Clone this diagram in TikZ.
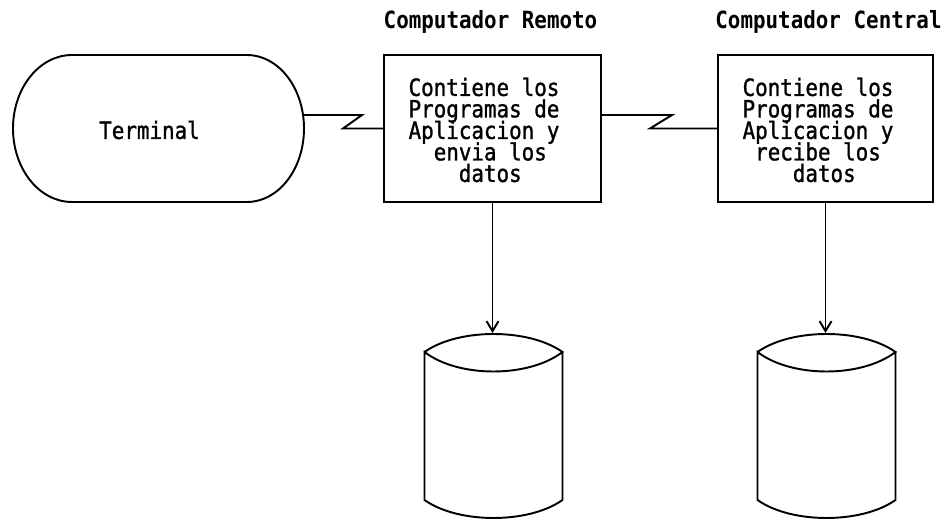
\documentclass[tikz,border=0pt]{standalone}
\usepackage{fontspec}
\newfontfamily\monof[FakeStretch=0.88,FakeBold=1.2]{DejaVu Sans Mono}
\newfontfamily\monob[FakeStretch=0.88]{DejaVu Sans Mono Bold}
\newcommand\mybodyfont{\monof\fontsize{13.5pt}{12.24pt}\selectfont\setlength{\lineskiplimit}{-20pt}}
\newcommand\mytitlefont{\monob\fontsize{13.5pt}{12.24pt}\selectfont}
\usetikzlibrary{arrows.meta}
\begin{document}
\begin{tikzpicture}[x=0.02cm,y=-0.02cm, line width=1.1pt,
  every node/.style={font=\mybodyfont, inner sep=0pt},
  boxnode/.style={draw, minimum height=2.94cm},
  txt/.style={align=left},
  ttl/.style={font=\mytitlefont},
  arr/.style={-{Straight Barb[length=0.2cm,width=0.24cm]}},
  dbline/.style={line join=miter}]
\useasboundingbox (0,0) rectangle (948,520);
% Terminal
\draw (72,55) -- (247,55)
   .. controls (278.5,55) and (304,87.9) .. (304,128.5)
   .. controls (304,169.1) and (278.5,202) .. (247,202)
   -- (72,202)
   .. controls (39.4,202) and (13,169.1) .. (13,128.5)
   .. controls (13,87.9) and (39.4,55) .. (72,55) -- cycle;
\node (term) at (149.5,130) {Terminal};
\coordinate (termR) at (303.5,115);
% Titles
\node[ttl] (remttl) at (490.5,22) {Computador Remoto};
\node[ttl] (centtl) at (828.5,22) {Computador Central};
% Boxes
\node[boxnode, minimum width=4.34cm] (rem) at (492.5,128.5) {};
\node[txt] (remtxt) at (484,130) {Contiene los\\Programas de\\Aplicacion y\\\hphantom{xx}envia los\\\hphantom{xxxx}datos};
\node[boxnode, minimum width=4.3cm] (cen) at (825.5,128.5) {};
\node[txt] (centxt) at (818,130) {Contiene los\\Programas de\\Aplicacion y\\\hphantom{x}recibe los\\\hphantom{xxxx}datos};
% Zigzag links
\draw (termR) -- (362,115) -- (343,128.5) -- (rem.west);
\draw ([yshift=0.27cm]rem.east) -- (672,115) -- (650,128.5) -- (cen.west);
% Databases
\coordinate (db1) at (493.5,352);
\coordinate (db1top) at (493.5,333);
\coordinate (db2) at (826.5,352);
\coordinate (db2top) at (826.5,333);
\foreach \c in {db1,db2}{
\begin{scope}[shift={(\c)}]
\draw[dbline] (-69,0) .. controls (-35,-24) and (35,-24) .. (69,0)
      .. controls (35,26) and (-35,26) .. (-69,0) -- (-69,148)
      .. controls (-35,172) and (35,172) .. (69,148) -- (69,0);
\end{scope}}
\draw[arr] (rem.south) -- (rem.south |- db1top);
\draw[arr] (cen.south) -- (cen.south |- db2top);
\end{tikzpicture}
\end{document}
